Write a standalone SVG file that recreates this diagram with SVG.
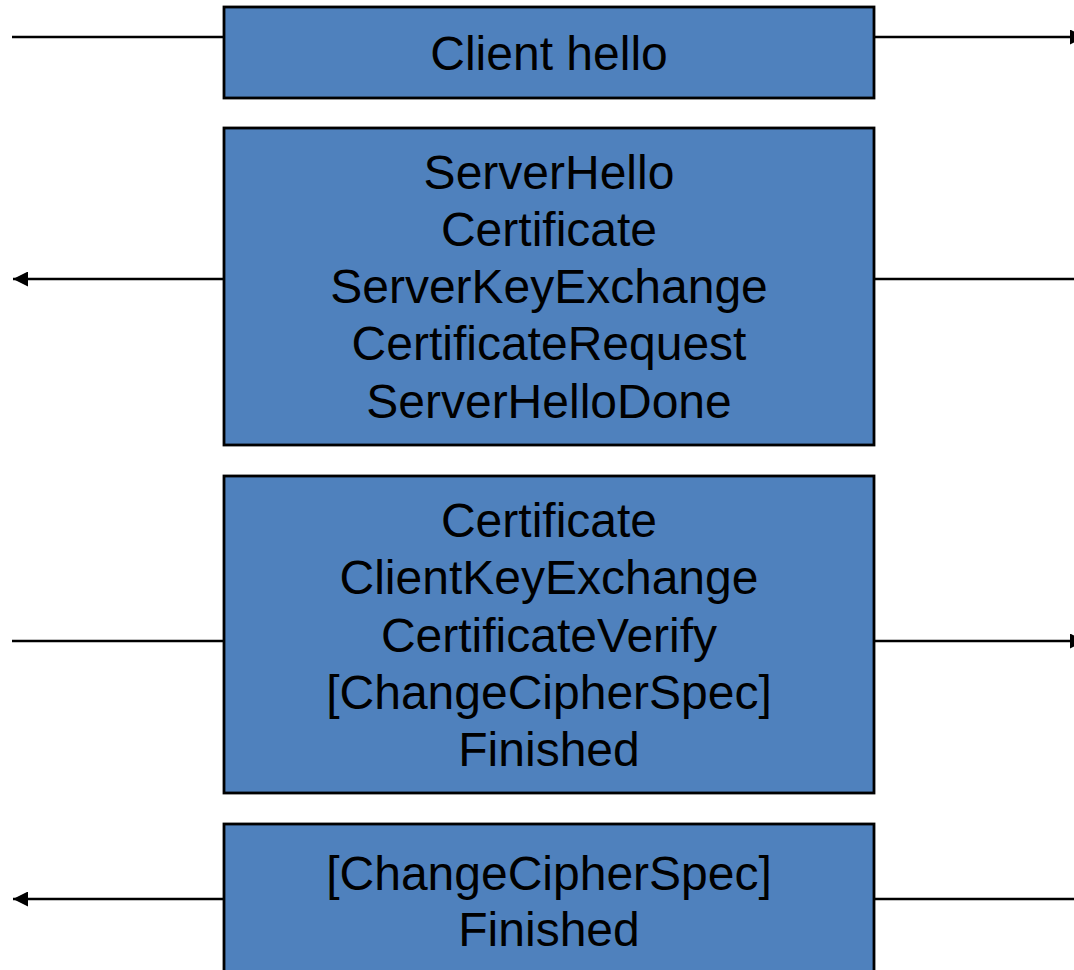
<svg xmlns="http://www.w3.org/2000/svg" width="1074" height="970" viewBox="0 0 1074 970">
  <style>
    .box { fill: #4F81BD; stroke: #000; stroke-width: 2.8; }
    .lbl { font-family: "Liberation Sans", Arial, sans-serif; font-size: 48px; fill: #000; text-anchor: middle; }
    .wire { stroke: #000; stroke-width: 2.3; fill: none; }
  </style>
  <defs>
    <marker id="head" viewBox="0 0 15 15" refX="15" refY="7.5" markerWidth="15" markerHeight="15" markerUnits="userSpaceOnUse" orient="auto">
      <path d="M0,0 L15,7.5 L0,15 Z" fill="#000"/>
    </marker>
  </defs>

  <!-- message flows between client (left) and server (right) -->
  <g id="connectors">
    <line class="wire" x1="12" y1="37" x2="223" y2="37"/>
    <line class="wire" x1="875" y1="37" x2="1085" y2="37" marker-end="url(#head)"/>

    <line class="wire" x1="223" y1="279" x2="13" y2="279" marker-end="url(#head)"/>
    <line class="wire" x1="875" y1="279" x2="1074" y2="279"/>

    <line class="wire" x1="12" y1="641" x2="223" y2="641"/>
    <line class="wire" x1="875" y1="641" x2="1085" y2="641" marker-end="url(#head)"/>

    <line class="wire" x1="223" y1="899" x2="13" y2="899" marker-end="url(#head)"/>
    <line class="wire" x1="875" y1="899" x2="1074" y2="899"/>
  </g>

  <g id="client-hello">
    <rect class="box" x="224" y="7" width="650" height="91"/>
    <text class="lbl" x="549" y="69.5">Client hello</text>
  </g>

  <g id="server-hello">
    <rect class="box" x="224" y="128" width="650" height="317"/>
    <text class="lbl" x="549" y="188.5">ServerHello</text>
    <text class="lbl" x="549" y="245.8">Certificate</text>
    <text class="lbl" x="549" y="303.1">ServerKeyExchange</text>
    <text class="lbl" x="549" y="360.4">CertificateRequest</text>
    <text class="lbl" x="549" y="417.7">ServerHelloDone</text>
  </g>

  <g id="client-finish">
    <rect class="box" x="224" y="476" width="650" height="317"/>
    <text class="lbl" x="549" y="537">Certificate</text>
    <text class="lbl" x="549" y="594.3">ClientKeyExchange</text>
    <text class="lbl" x="549" y="651.6">CertificateVerify</text>
    <text class="lbl" x="549" y="708.9">[ChangeCipherSpec]</text>
    <text class="lbl" x="549" y="766.2">Finished</text>
  </g>

  <g id="server-finish">
    <rect class="box" x="224" y="824" width="650" height="160"/>
    <text class="lbl" x="549" y="889.5">[ChangeCipherSpec]</text>
    <text class="lbl" x="549" y="945.5">Finished</text>
  </g>
</svg>
